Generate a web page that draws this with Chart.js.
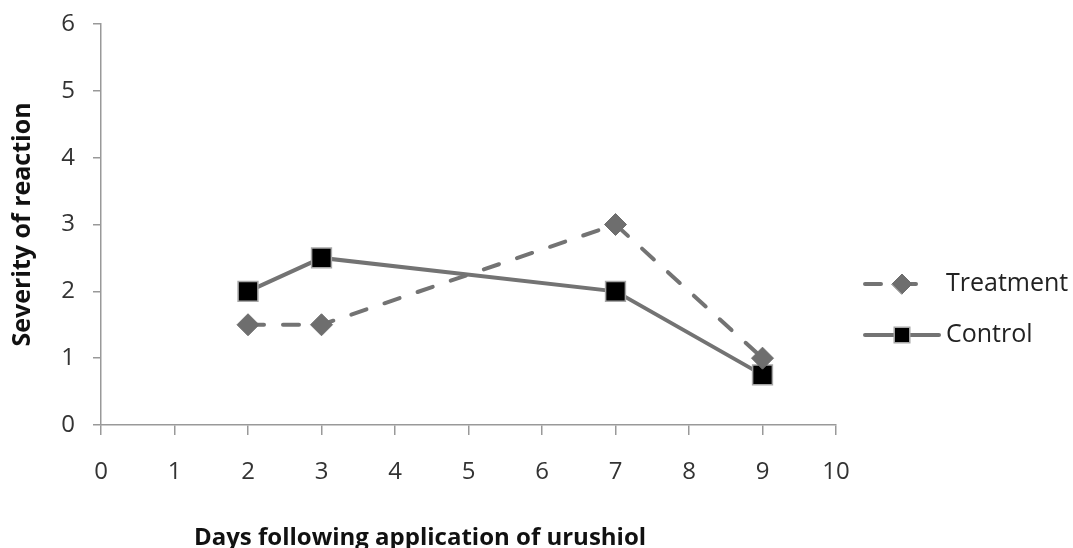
<!DOCTYPE html>
<html>
<head>
<meta charset="utf-8">
<script src="https://cdn.jsdelivr.net/npm/chart.js@4.4.1/dist/chart.umd.min.js"></script>
<style>
  html, body { margin: 0; padding: 0; background: #fff; overflow: hidden; }
  #grafico { display: block; }
</style>
</head>
<body>
<canvas id="grafico" width="1073" height="548" style="width:1073px;height:548px"></canvas>
<script>
// dados
const dias = [2, 3, 7, 9];
const tratamento = [1.5, 1.5, 3, 1];
const controle = [2, 2.5, 2, 0.75];
const xTicks = [0, 1, 2, 3, 4, 5, 6, 7, 8, 9, 10];
const yTicks = [0, 1, 2, 3, 4, 5, 6];
const nomes = ["Treatment", "Control"];
const tituloX = "Days following application of urushiol";
const tituloY = "Severity of reaction";

const corLinha = "#737373";
const corEixo = "#999999";
const corTexto = "#333333";
const fonte = "'Open Sans', 'Noto Sans', sans-serif";

const pontos = (ys) => dias.map((d, i) => ({ x: d, y: ys[i] }));

// legenda desenhada à mão (linha + marcador)
const legendaPlugin = {
  id: "legendaManual",
  afterDraw(chart) {
    const ctx = chart.ctx;
    const linhas = [284, 335];
    chart.data.datasets.forEach((ds, i) => {
      const y = linhas[i];
      ctx.save();
      ctx.strokeStyle = ds.borderColor;
      ctx.lineWidth = ds.borderWidth;
      ctx.lineCap = "round";
      ctx.setLineDash(ds.borderDash || []);
      ctx.beginPath();
      ctx.moveTo(865, y);
      ctx.lineTo(i === 0 ? 921 : 939, y);
      ctx.stroke();
      ctx.setLineDash([]);
      ctx.fillStyle = ds.pointBackgroundColor;
      ctx.strokeStyle = ds.pointBorderColor;
      ctx.lineWidth = ds.pointBorderWidth;
      Chart.helpers.drawPoint(ctx, {
        pointStyle: ds.pointStyle,
        radius: i === 0 ? 10 : 11,
        rotation: 0,
        borderWidth: ds.pointBorderWidth
      }, 902, y);
      ctx.fillStyle = "#222222";
      ctx.font = "25px " + fonte;
      ctx.textBaseline = "middle";
      ctx.fillText(ds.label, 946, y);
      ctx.restore();
    });

    // título do eixo x
    ctx.save();
    ctx.fillStyle = "#111111";
    ctx.font = "bold 24px " + fonte;
    ctx.textAlign = "center";
    ctx.textBaseline = "alphabetic";
    ctx.fillText(tituloX, 420, 545);
    ctx.restore();
  }
};

const chart = new Chart(document.getElementById("grafico").getContext("2d"), {
  type: "scatter",
  data: {
    datasets: [
      {
        label: nomes[0],
        data: pontos(tratamento),
        showLine: true,
        borderColor: corLinha,
        borderWidth: 4,
        borderDash: [16, 19],
        borderCapStyle: "round",
        pointStyle: "rectRot",
        pointRadius: 11,
        pointHoverRadius: 11,
        pointBackgroundColor: "#6e6e6e",
        pointBorderColor: "#6e6e6e",
        pointBorderWidth: 1
      },
      {
        label: nomes[1],
        data: pontos(controle),
        showLine: true,
        borderColor: corLinha,
        borderWidth: 4,
        pointStyle: "rect",
        pointRadius: 14,
        pointHoverRadius: 14,
        pointBackgroundColor: "#000000",
        pointBorderColor: "#a6a6a6",
        pointBorderWidth: 1.5
      }
    ]
  },
  options: {
    responsive: false,
    devicePixelRatio: 1,
    animation: false,
    events: [],
    layout: { padding: { top: 24, right: 237, left: 0, bottom: 0 } },
    plugins: {
      legend: { display: false },
      tooltip: { enabled: false }
    },
    scales: {
      x: {
        type: "linear",
        min: 0,
        max: 10,
        afterFit: (s) => { s.height = 123; s.paddingLeft = 0; s.paddingRight = 0; },
        afterBuildTicks: (s) => { s.ticks = xTicks.map((v) => ({ value: v })); },
        grid: { drawOnChartArea: false, drawTicks: true, tickLength: 10, color: corEixo, lineWidth: 1.5 },
        border: { color: corEixo, width: 1.5 },
        ticks: { color: corTexto, padding: 23, font: { size: 24, family: fonte }, maxRotation: 0 }
      },
      y: {
        min: 0,
        max: 6,
        afterFit: (s) => { s.width = 101; s.paddingTop = 0; s.paddingBottom = 0; },
        afterBuildTicks: (s) => { s.ticks = yTicks.map((v) => ({ value: v })); },
        grid: { drawOnChartArea: false, drawTicks: true, tickLength: 8, color: corEixo, lineWidth: 1.5 },
        border: { color: corEixo, width: 1.5 },
        ticks: { color: corTexto, padding: 18, font: { size: 24, family: fonte } },
        title: {
          display: true,
          text: tituloY,
          color: "#111111",
          padding: { top: 8, bottom: 0 },
          font: { size: 25, weight: "bold", family: fonte }
        }
      }
    }
  },
  plugins: [legendaPlugin]
});
</script>
</body>
</html>
